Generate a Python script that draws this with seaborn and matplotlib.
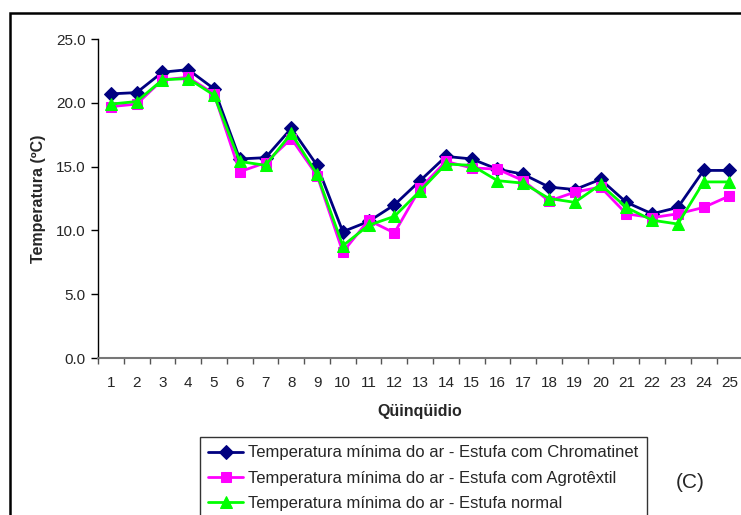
import numpy as np
import pandas as pd
import matplotlib
matplotlib.use('Agg')
import matplotlib.pyplot as plt
import seaborn as sns
from matplotlib.patches import Rectangle
from matplotlib.ticker import FormatStrFormatter

sns.set_style('white')
plt.rcParams['font.family'] = ['Liberation Sans', 'DejaVu Sans']

# ---------------------- dados ----------------------
quinquidio = list(range(1, 26))
chromatinet = [20.7, 20.8, 22.4, 22.6, 21.1, 15.6, 15.7, 18.0, 15.1, 9.9,
               10.7, 12.0, 13.9, 15.8, 15.6, 14.8, 14.4, 13.4, 13.2, 14.0,
               12.2, 11.3, 11.8, 14.7, 14.7]
agrotextil = [19.7, 19.9, 21.8, 22.0, 20.7, 14.6, 15.3, 17.2, 14.3, 8.3,
              10.8, 9.8, 13.3, 15.4, 14.9, 14.8, 13.9, 12.3, 13.0, 13.4,
              11.3, 11.0, 11.3, 11.8, 12.7]
normal = [19.9, 20.1, 21.8, 21.9, 20.6, 15.4, 15.1, 17.6, 14.4, 8.8,
          10.4, 11.1, 13.1, 15.2, 15.1, 13.9, 13.7, 12.5, 12.2, 13.6,
          11.8, 10.8, 10.5, 13.8, 13.8]

series = [
    ('Temperatura mínima do ar - Estufa com Chromatinet', chromatinet, '#000080', 'D', 7),
    ('Temperatura mínima do ar - Estufa com Agrotêxtil', agrotextil, '#FF00FF', 's', 7.5),
    ('Temperatura mínima do ar - Estufa normal', normal, '#00FF00', '^', 8.5),
]

fig = plt.figure(figsize=(7.41, 5.15), dpi=100)
ax = fig.add_axes([98 / 741, 157 / 515, 643 / 741, 319 / 515])

for nome, valores, cor, marcador, tam in series:
    df = pd.DataFrame({'x': quinquidio, 'y': valores})
    sns.lineplot(data=df, x='x', y='y', ax=ax, color=cor, marker=marcador,
                 markersize=tam, markeredgecolor=cor, linewidth=2, label=nome)

ax.set_xlim(0.5, 25.45)
ax.set_ylim(0, 25)
ax.set_yticks(np.arange(0, 26, 5))
ax.yaxis.set_major_formatter(FormatStrFormatter('%.1f'))
ax.set_xticks(quinquidio)
ax.set_xticks(np.arange(0.5, 25.5, 1), minor=True)
ax.tick_params(axis='x', which='major', length=0, pad=13, labelsize=11)
ax.tick_params(axis='x', which='minor', length=4, width=1, color='#555555', direction='out', bottom=True)
ax.tick_params(axis='y', length=5, width=1, color='black', direction='out', left=True, labelsize=11, pad=4)

for lado in ['top', 'right']:
    ax.spines[lado].set_visible(False)
ax.spines['left'].set_color('black')
ax.spines['left'].set_linewidth(1)
ax.spines['bottom'].set_color('#777777')
ax.spines['bottom'].set_linewidth(1.5)

ax.set_xlabel('Qüinqüidio', fontsize=11.5, fontweight='bold', labelpad=10)
ax.set_ylabel('Temperatura (ºC)', fontsize=11.5, fontweight='bold', labelpad=7)

leg = ax.legend(loc='upper left', bbox_to_anchor=(200 / 741, 1 - 437 / 515),
                bbox_transform=fig.transFigure, fontsize=12, frameon=True,
                fancybox=False, edgecolor='black', handlelength=2.1,
                handletextpad=0.3, borderpad=0.5, labelspacing=0.62,
                borderaxespad=0)
leg.get_frame().set_linewidth(1)

fig.text(690 / 741, 1 - 483 / 515, '(C)', fontsize=15, ha='center', va='center')

# moldura externa
fig.patches.append(Rectangle((10 / 741, -0.2), 1.2, 1.2 - 13 / 515,
                             transform=fig.transFigure, fill=False,
                             edgecolor='black', linewidth=1.8))

plt.savefig('out.png', dpi=100)
